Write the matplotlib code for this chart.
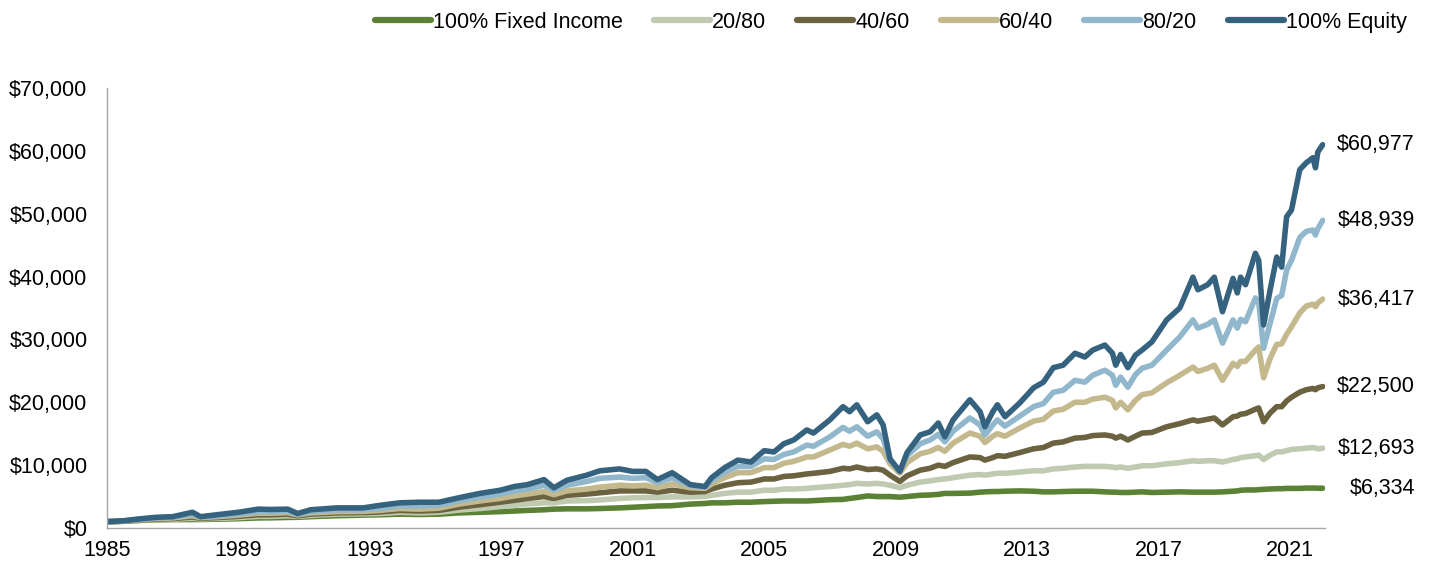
import matplotlib
matplotlib.use("Agg")
import matplotlib.pyplot as plt
from matplotlib.transforms import blended_transform_factory
from matplotlib.ticker import FuncFormatter

plt.rcParams['font.family'] = ['Liberation Sans', 'DejaVu Sans']

# dates as fractional years
years = [1985.0, 1985.5, 1986.0, 1986.5, 1987.0, 1987.6, 1987.85, 1988.5, 1989.0, 1989.6,
         1990.0, 1990.5, 1990.8, 1991.2, 1992.0, 1992.8, 1993.3, 1993.9, 1994.5, 1995.1,
         1995.7, 1996.35, 1996.96, 1997.4, 1997.8, 1998.3, 1998.6, 1999.0, 1999.6, 2000.0,
         2000.6, 2001.0, 2001.4, 2001.75, 2002.2, 2002.75, 2003.2, 2003.4, 2003.8, 2004.2,
         2004.6, 2005.0, 2005.3, 2005.6, 2005.9, 2006.3, 2006.5, 2007.0, 2007.4, 2007.6,
         2007.82, 2008.15, 2008.43, 2008.62, 2008.83, 2009.13, 2009.35, 2009.75, 2010.05, 2010.3,
         2010.5, 2010.75, 2011.26, 2011.57, 2011.72, 2011.96, 2012.1, 2012.33, 2012.78, 2013.2,
         2013.5, 2013.8, 2014.1, 2014.46, 2014.76, 2015.0, 2015.37, 2015.6, 2015.7, 2015.85,
         2016.07, 2016.3, 2016.5, 2016.8, 2017.25, 2017.65, 2018.05, 2018.2, 2018.5, 2018.7,
         2018.95, 2019.27, 2019.4, 2019.5, 2019.65, 2019.95, 2020.05, 2020.2, 2020.4, 2020.6,
         2020.75, 2020.9, 2021.05, 2021.3, 2021.5, 2021.7, 2021.78, 2021.85, 2022.0]

# portfolio values in $ thousands
fixed = [1.0, 1.06, 1.2, 1.3, 1.33, 1.35, 1.35, 1.42, 1.48, 1.6,
         1.62, 1.68, 1.7, 1.8, 1.95, 2.05, 2.1, 2.2, 2.15, 2.2,
         2.4, 2.5, 2.6, 2.7, 2.8, 2.9, 3.0, 3.05, 3.05, 3.1,
         3.2, 3.3, 3.4, 3.5, 3.55, 3.8, 3.9, 4.0, 4.0, 4.1,
         4.1, 4.2, 4.25, 4.3, 4.3, 4.3, 4.35, 4.5, 4.55, 4.7,
         4.85, 5.1, 5.0, 5.0, 5.0, 4.9, 5.0, 5.2, 5.25, 5.35,
         5.5, 5.5, 5.55, 5.7, 5.75, 5.8, 5.8, 5.85, 5.9, 5.85,
         5.75, 5.75, 5.8, 5.85, 5.85, 5.85, 5.75, 5.7, 5.7, 5.65,
         5.65, 5.7, 5.75, 5.65, 5.7, 5.75, 5.7, 5.7, 5.7, 5.7,
         5.75, 5.85, 5.9, 6.0, 6.05, 6.05, 6.1, 6.15, 6.2, 6.25,
         6.25, 6.3, 6.3, 6.3, 6.35, 6.35, 6.35, 6.33, 6.334]

p20 = [1.0, 1.07, 1.25, 1.35, 1.4, 1.55, 1.45, 1.55, 1.65, 1.85,
       1.85, 1.95, 1.85, 2.0, 2.2, 2.25, 2.3, 2.5, 2.4, 2.5,
       2.85, 3.1, 3.4, 3.6, 3.85, 4.0, 4.0, 4.3, 4.35, 4.45,
       4.7, 4.8, 4.85, 4.85, 4.95, 4.95, 5.0, 5.2, 5.5, 5.7,
       5.7, 6.0, 6.0, 6.2, 6.2, 6.3, 6.4, 6.6, 6.8, 6.9,
       7.1, 7.0, 7.1, 7.0, 6.8, 6.4, 6.8, 7.3, 7.5, 7.7,
       7.8, 8.0, 8.4, 8.5, 8.4, 8.6, 8.7, 8.7, 8.9, 9.1,
       9.1, 9.4, 9.5, 9.7, 9.8, 9.8, 9.8, 9.7, 9.6, 9.7,
       9.5, 9.7, 9.9, 9.9, 10.2, 10.4, 10.7, 10.6, 10.7, 10.7,
       10.5, 10.9, 11.0, 11.2, 11.3, 11.5, 11.6, 10.9, 11.6, 12.1,
       12.1, 12.3, 12.5, 12.6, 12.7, 12.8, 12.7, 12.6, 12.693]

p40 = [1.0, 1.08, 1.3, 1.42, 1.5, 1.75, 1.55, 1.7, 1.85, 2.1,
       2.1, 2.2, 1.95, 2.2, 2.4, 2.45, 2.55, 2.8, 2.7, 2.8,
       3.3, 3.7, 4.1, 4.4, 4.7, 5.0, 4.7, 5.2, 5.4, 5.6,
       5.9, 5.9, 5.9, 5.7, 6.0, 5.7, 5.8, 6.2, 6.8, 7.2,
       7.3, 7.8, 7.8, 8.2, 8.3, 8.6, 8.7, 9.0, 9.5, 9.4,
       9.7, 9.3, 9.4, 9.2, 8.4, 7.4, 8.3, 9.2, 9.5, 10.0,
       9.8, 10.4, 11.3, 11.2, 10.8, 11.2, 11.5, 11.4, 12.0, 12.6,
       12.8, 13.5, 13.7, 14.3, 14.4, 14.7, 14.8, 14.6, 14.3, 14.6,
       14.0, 14.6, 15.1, 15.2, 16.1, 16.6, 17.2, 17.0, 17.3, 17.5,
       16.4, 17.7, 17.8, 18.1, 18.2, 18.9, 19.1, 16.9, 18.3, 19.3,
       19.3, 20.2, 20.8, 21.6, 22.0, 22.2, 22.0, 22.3, 22.5]

p60 = [1.0, 1.1, 1.35, 1.5, 1.6, 1.95, 1.65, 1.85, 2.05, 2.35,
       2.35, 2.45, 2.1, 2.4, 2.6, 2.65, 2.8, 3.1, 3.0, 3.15,
       3.8, 4.3, 4.7, 5.1, 5.4, 5.8, 5.3, 5.9, 6.2, 6.5,
       6.8, 6.7, 6.8, 6.4, 7.0, 6.4, 6.3, 7.0, 8.0, 8.8,
       8.8, 9.6, 9.6, 10.3, 10.6, 11.3, 11.3, 12.4, 13.3, 13.0,
       13.5, 12.6, 12.9, 12.2, 10.2, 8.7, 10.4, 11.8, 12.2, 12.8,
       12.2, 13.5, 15.1, 14.6, 13.6, 14.6, 15.0, 14.6, 15.9, 17.0,
       17.3, 18.6, 18.9, 20.0, 20.0, 20.5, 20.8, 20.3, 19.1, 20.0,
       18.8, 20.3, 21.2, 21.5, 23.1, 24.3, 25.6, 24.9, 25.4, 25.9,
       23.5, 26.2, 25.7, 26.5, 26.5, 28.3, 28.8, 23.9, 27.0, 29.2,
       29.3, 30.8, 32.0, 34.2, 35.3, 35.6, 35.2, 35.8, 36.417]

p80 = [1.0, 1.12, 1.4, 1.6, 1.7, 2.2, 1.75, 2.0, 2.25, 2.6,
       2.6, 2.7, 2.2, 2.6, 2.9, 2.9, 3.1, 3.5, 3.5, 3.6,
       4.3, 4.9, 5.4, 5.9, 6.2, 6.8, 6.0, 6.8, 7.4, 7.9,
       8.1, 7.9, 8.0, 7.2, 8.0, 6.7, 6.5, 7.5, 8.9, 9.8,
       9.8, 11.0, 10.9, 11.7, 12.1, 13.2, 13.0, 14.5, 16.0, 15.4,
       16.1, 14.6, 15.3, 14.2, 10.8, 9.1, 11.5, 13.4, 14.0, 14.9,
       13.7, 15.4, 17.5, 16.4, 14.8, 16.4, 17.2, 16.2, 17.8, 19.3,
       19.8, 21.6, 21.9, 23.5, 23.2, 24.3, 25.1, 24.3, 22.7, 24.0,
       22.4, 24.4, 25.4, 25.9, 28.3, 30.4, 33.1, 31.8, 32.4, 33.1,
       29.4, 33.1, 31.8, 33.2, 32.8, 36.6, 36.0, 28.6, 32.6, 36.5,
       37.0, 41.0, 42.6, 46.2, 47.2, 47.4, 46.6, 47.6, 48.939]

equity = [1.0, 1.15, 1.45, 1.7, 1.8, 2.5, 1.8, 2.2, 2.5, 3.0,
          2.95, 3.0, 2.3, 2.9, 3.2, 3.2, 3.6, 4.0, 4.1, 4.1,
          4.8, 5.5, 6.0, 6.6, 6.9, 7.7, 6.4, 7.6, 8.4, 9.1,
          9.4, 9.0, 9.0, 7.7, 8.8, 6.9, 6.6, 8.0, 9.6, 10.8,
          10.5, 12.3, 12.1, 13.4, 14.0, 15.6, 15.1, 17.2, 19.3, 18.5,
          19.6, 16.9, 18.0, 16.4, 11.0, 9.0, 12.0, 14.8, 15.3, 16.7,
          14.5, 17.2, 20.4, 18.5, 16.1, 18.5, 19.6, 17.7, 19.9, 22.3,
          23.2, 25.5, 25.9, 27.8, 27.2, 28.3, 29.1, 27.8, 25.9, 27.6,
          25.5, 27.5, 28.3, 29.6, 33.1, 35.0, 39.9, 37.9, 38.7, 39.9,
          34.4, 39.7, 37.4, 39.9, 38.7, 43.7, 42.6, 32.3, 37.9, 43.1,
          41.5, 49.5, 50.6, 57.0, 58.1, 58.9, 57.3, 59.8, 60.977]

labels = ['100% Fixed Income', '20/80', '40/60', '60/40', '80/20', '100% Equity']
colors = ['#5b8234', '#bfcab1', '#6b6240', '#c4b98d', '#90b7cc', '#35627f']
end_labels = ['$6,334', '$12,693', '$22,500', '$36,417', '$48,939', '$60,977']
series = [fixed, p20, p40, p60, p80, equity]

fs = 15.5

fig = plt.figure(figsize=(14.32, 5.65), dpi=100)
ax = fig.add_axes([0.0747, 0.0655, 0.8506, 0.7788])

for vals, lab, col in zip(series, labels, colors):
    ax.plot(years, [v * 1000 for v in vals], color=col, lw=4.0, label=lab,
            solid_joinstyle='round', solid_capstyle='round')

ax.set_xlim(1985, 2022.07)
ax.set_ylim(0, 70000)
ax.set_xticks(range(1985, 2022, 4))
ax.set_yticks(range(0, 70001, 10000))
ax.yaxis.set_major_formatter(FuncFormatter(lambda v, p: '${:,.0f}'.format(v)))
ax.tick_params(axis='both', length=0, labelsize=fs, colors='black')
ax.tick_params(axis='y', pad=14)
ax.tick_params(axis='x', pad=9)
for s in ['top', 'right']:
    ax.spines[s].set_visible(False)
for s in ['left', 'bottom']:
    ax.spines[s].set_color('#a6a6a6')
    ax.spines[s].set_linewidth(1.0)

# value labels on the right
tr = blended_transform_factory(fig.transFigure, ax.transData)
for vals, txt in zip(series, end_labels):
    ax.text(0.988, vals[-1] * 1000, txt, transform=tr, ha='right', va='center',
            fontsize=fs, clip_on=False)

leg = fig.legend(loc='upper right', bbox_to_anchor=(0.996, 1.013), ncol=6, frameon=False,
                 fontsize=fs, handlelength=2.6, handletextpad=0.1, columnspacing=1.45)
for h in leg.get_lines():
    h.set_linewidth(4.5)

fig.savefig('out.png', dpi=100)
